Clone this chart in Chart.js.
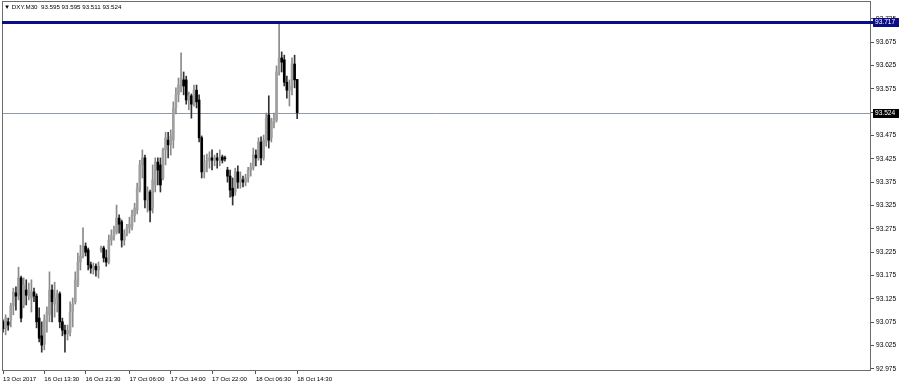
<!DOCTYPE html>
<html><head><meta charset="utf-8">
<script src="https://cdn.jsdelivr.net/npm/chart.js@4.4.0/dist/chart.umd.min.js"></script>
<style>
html,body{margin:0;padding:0;background:#fff;}
#wrap{position:relative;width:900px;height:387px;overflow:hidden;}
#hdr{position:absolute;left:4px;top:3px;font:6.2px "Liberation Sans",Arial,sans-serif;color:#000;white-space:pre;line-height:8px;}
</style></head><body>
<div id="wrap"><canvas id="c" width="900" height="387"></canvas><div id="hdr">▼ DXY.M30  93.595 93.595 93.511 93.524</div></div>
<script>
const openP = [
93.076,93.063,93.076,93.080,93.110,93.138,93.133,93.170,93.112,93.144,
93.131,93.127,93.140,93.131,93.084,93.046,93.028,93.076,93.091,93.144,
93.114,93.127,93.136,93.076,93.058,93.050,93.054,93.097,93.119,93.155,
93.204,93.217,93.238,93.230,93.198,93.191,93.195,93.187,93.230,93.234,
93.213,93.204,93.251,93.260,93.268,93.298,93.290,93.251,93.264,93.277,
93.281,93.303,93.315,93.358,93.412,93.427,93.337,93.354,93.320,93.369,
93.418,93.412,93.384,93.444,93.465,93.455,93.465,93.534,93.562,93.577,
93.594,93.594,93.551,93.560,93.542,93.572,93.551,93.470,93.397,93.418,
93.422,93.427,93.422,93.427,93.422,93.429,93.427,93.401,93.388,93.362,
93.354,93.397,93.375,93.380,93.375,93.384,93.401,93.407,93.433,93.427,
93.461,93.427,93.461,93.519,93.470,93.500,93.508,93.611,93.641,93.637,
93.589,93.572,93.581,93.628,93.595];
const highP = [
93.080,93.091,93.084,93.116,93.148,93.151,93.193,93.174,93.170,93.166,
93.159,93.166,93.148,93.136,93.106,93.076,93.091,93.108,93.183,93.155,
93.161,93.144,93.140,93.084,93.069,93.069,93.119,93.127,93.183,93.223,
93.240,93.277,93.245,93.234,93.204,93.202,93.200,93.204,93.238,93.238,
93.230,93.262,93.273,93.281,93.326,93.305,93.294,93.273,93.285,93.300,
93.315,93.330,93.373,93.422,93.444,93.433,93.365,93.358,93.412,93.427,
93.427,93.427,93.448,93.482,93.482,93.487,93.547,93.577,93.598,93.652,
93.611,93.602,93.568,93.564,93.583,93.583,93.562,93.474,93.433,93.435,
93.440,93.444,93.433,93.437,93.444,93.433,93.431,93.407,93.401,93.384,
93.405,93.410,93.397,93.388,93.392,93.407,93.416,93.448,93.444,93.470,
93.472,93.476,93.523,93.560,93.512,93.523,93.624,93.717,93.654,93.647,
93.602,93.594,93.641,93.647,93.595];
const lowP = [
93.054,93.048,93.058,93.065,93.091,93.101,93.123,93.076,93.106,93.112,
93.123,93.097,93.119,93.063,93.033,93.011,93.016,93.054,93.076,93.076,
93.086,93.097,93.063,93.046,93.011,93.037,93.046,93.065,93.114,93.151,
93.187,93.213,93.217,93.187,93.180,93.178,93.174,93.170,93.225,93.204,
93.195,93.200,93.240,93.251,93.264,93.266,93.236,93.240,93.260,93.266,
93.273,93.290,93.307,93.354,93.384,93.320,93.311,93.290,93.309,93.354,
93.369,93.354,93.380,93.412,93.427,93.433,93.448,93.521,93.547,93.568,
93.562,93.542,93.530,93.512,93.538,93.534,93.461,93.384,93.384,93.397,
93.405,93.401,93.410,93.405,93.410,93.416,93.420,93.375,93.343,93.326,
93.347,93.362,93.362,93.365,93.367,93.375,93.388,93.401,93.410,93.422,
93.412,93.422,93.452,93.448,93.461,93.491,93.504,93.604,93.611,93.581,
93.555,93.538,93.562,93.577,93.511];
const closeP = [
93.061,93.084,93.069,93.110,93.140,93.131,93.170,93.084,93.155,93.133,
93.144,93.140,93.131,93.076,93.041,93.026,93.080,93.097,93.144,93.119,
93.127,93.136,93.076,93.058,93.050,93.058,93.097,93.114,93.166,93.204,
93.217,93.238,93.225,93.198,93.191,93.195,93.187,93.195,93.234,93.213,
93.204,93.251,93.260,93.273,93.298,93.285,93.251,93.264,93.277,93.285,
93.305,93.320,93.362,93.412,93.427,93.337,93.354,93.315,93.380,93.418,
93.401,93.369,93.444,93.470,93.455,93.474,93.534,93.562,93.583,93.598,
93.581,93.551,93.560,93.542,93.572,93.547,93.470,93.397,93.418,93.422,
93.427,93.422,93.427,93.422,93.429,93.422,93.425,93.388,93.358,93.345,
93.397,93.375,93.384,93.375,93.384,93.401,93.407,93.433,93.427,93.461,
93.427,93.465,93.512,93.465,93.504,93.512,93.611,93.641,93.632,93.589,
93.572,93.581,93.628,93.594,93.524];
const xTickIndex = [0,16,32,49,65,81,98,114];
const xTickLabels = ['13 Oct 2017','16 Oct 13:30','16 Oct 21:30','17 Oct 06:00','17 Oct 14:00','17 Oct 22:00','18 Oct 06:30','18 Oct 14:30'];
const yTickValues = [92.975,93.025,93.075,93.125,93.175,93.225,93.275,93.325,93.375,93.425,93.475,93.525,93.575,93.625,93.675,93.725];
const levelPrice = 93.717;
const lastPrice = 93.524;

const FONT = 'Liberation Sans';
const wickData = openP.map((o,i)=>({x:i, y:[lowP[i], highP[i]]}));
const bodyData = openP.map((o,i)=>({x:i, y:[o, closeP[i]]}));
const bull = i => closeP[i] >= openP[i];

const levels = {
  id:'levels',
  beforeDatasetsDraw(chart){
    const {ctx, chartArea:a, scales:{y}} = chart;
    const yl = Math.round(y.getPixelForValue(lastPrice)) + 0.5;
    ctx.save();
    ctx.strokeStyle = '#8e9aa6'; ctx.lineWidth = 1;
    ctx.beginPath(); ctx.moveTo(a.left, yl); ctx.lineTo(a.right, yl); ctx.stroke();
    ctx.restore();
  },
  afterDraw(chart){
    const {ctx, chartArea:a, scales:{y}} = chart;
    ctx.save();
    ctx.strokeStyle = '#6d6d6d'; ctx.lineWidth = 1;
    ctx.strokeRect(a.left+0.5, a.top-0.5, a.right-a.left-1, a.bottom-a.top);
    const yb = y.getPixelForValue(levelPrice);
    ctx.strokeStyle = '#0c0c86'; ctx.lineWidth = 3;
    ctx.beginPath(); ctx.moveTo(a.left, yb); ctx.lineTo(a.right+2, yb); ctx.stroke();
    ctx.font = '6.6px "' + FONT + '"'; ctx.textBaseline = 'middle';
    ctx.fillStyle = '#0c0c86'; ctx.fillRect(a.right+2, Math.round(yb)-4, 26, 9);
    ctx.fillStyle = '#fff'; ctx.fillText(levelPrice.toFixed(3), a.right+4, Math.round(yb)+0.5);
    const yl = Math.round(y.getPixelForValue(lastPrice));
    ctx.fillStyle = '#000'; ctx.fillRect(a.right+2, yl-4, 26, 9);
    ctx.fillStyle = '#fff'; ctx.fillText(lastPrice.toFixed(3), a.right+4, yl+0.5);
    ctx.restore();
  }
};

new Chart(document.getElementById('c'), {
  type:'bar',
  data:{datasets:[
    {data:wickData, barThickness:1, grouped:false, order:2,
     backgroundColor:(c)=> bull(c.dataIndex) ? '#8a8a8a' : '#333'},
    {data:bodyData, barThickness:2, grouped:false, order:1, minBarLength:1,
     backgroundColor:(c)=> bull(c.dataIndex) ? '#a0a0a0' : '#000'}
  ]},
  options:{
    responsive:false, animation:false, devicePixelRatio:1,
    layout:{padding:{left:2, top:2, right:0, bottom:0}},
    plugins:{legend:{display:false}, tooltip:{enabled:false}, title:{display:false}},
    scales:{
      x:{type:'linear', min:-0.4, max:336.4, offset:false, position:'bottom',
         afterBuildTicks:(s)=>{ s.ticks = xTickIndex.map(v=>({value:v})); },
         afterFit:(s)=>{ s.height = 16; s.paddingLeft = 0; s.paddingRight = 0; },
         grid:{display:true, offset:false, drawOnChartArea:false, drawTicks:true, tickLength:3, color:'#555'},
         border:{display:false},
         ticks:{align:'start', maxRotation:0, minRotation:0, autoSkip:false, padding:2, color:'#000',
                font:{family:FONT, size:6.1},
                callback:(v)=>{ const k = xTickIndex.indexOf(v); return k>=0 ? xTickLabels[k] : ''; }}
      },
      y:{type:'linear', position:'right', min:92.9707, max:93.7608,
         afterBuildTicks:(s)=>{ s.ticks = yTickValues.map(v=>({value:v})); },
         afterFit:(s)=>{ s.width = 29; s.paddingTop = 0; s.paddingBottom = 0; },
         grid:{drawOnChartArea:false, drawTicks:true, tickLength:3, color:'#555'},
         border:{display:false},
         ticks:{padding:2, color:'#000', font:{family:FONT, size:6.6},
                callback:(v)=> Number(v).toFixed(3)}
      }
    }
  },
  plugins:[levels]
});
</script>
</body></html>
